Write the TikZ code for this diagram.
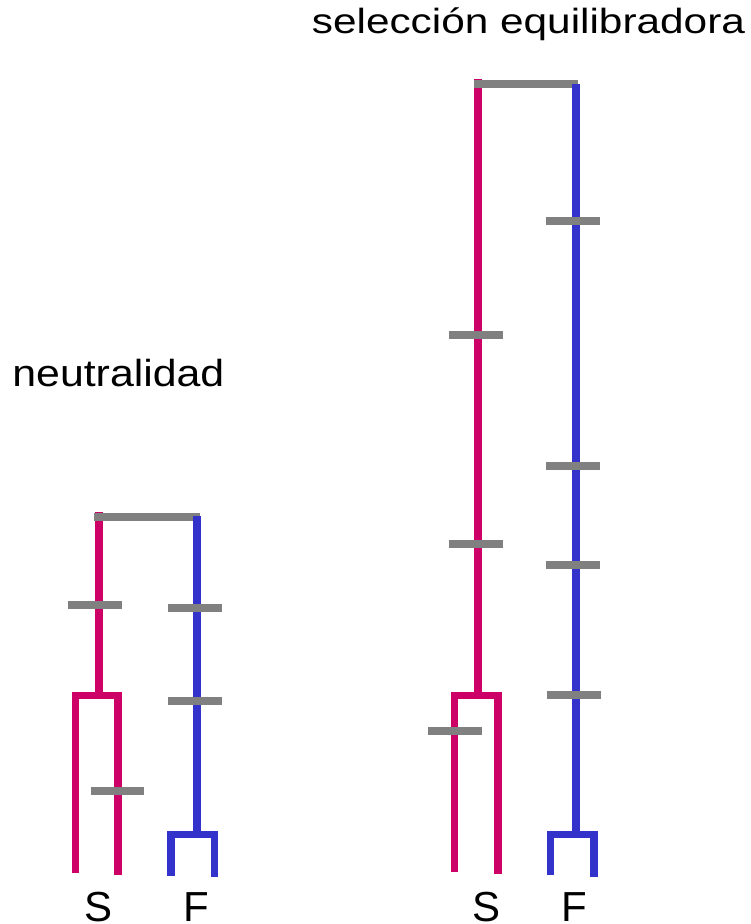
\documentclass[tikz,border=0pt]{standalone}
\usepackage{fontspec}
\setmainfont{Liberation Sans}
\usepackage{graphicx}
\definecolor{magS}{HTML}{CC0066}
\definecolor{bluF}{HTML}{3333CC}
\definecolor{greyT}{HTML}{808080}
\begin{document}
\begin{tikzpicture}[x=1pt,y=-1pt,
  sline/.style={draw=magS,line width=7.5pt},
  fline/.style={draw=bluF,line width=7.5pt},
  tick/.style={draw=greyT,line width=7.5pt},
  leaf/.style={inner sep=0pt,font=\fontsize{42}{50}\selectfont,anchor=base},
  ttl/.style={inner sep=0pt,anchor=base west}]
\useasboundingbox (0,0) rectangle (751,924);
% ---------- left tree (neutralidad)
\coordinate (LStop) at (99,512);
\coordinate (LSsplit) at (99,695.5);
\coordinate (LSa) at (75.5,873);
\coordinate (LSb) at (118,875);
\coordinate (LFtop) at (197,516);
\coordinate (LFsplit) at (197,834.5);
\coordinate (LFa) at (171,876);
\coordinate (LFb) at (214.5,877);
\path[sline] (LStop) -- (LSsplit);
\path[sline] (LSa) -- (LSa |- LSsplit) -- (LSb |- LSsplit) -- (LSb);
\path[tick] (94,517) -- (200,517);
\path[fline] (LFtop) -- (LFsplit);
\path[fline] (LFa) -- (LFa |- LFsplit) -- (LFb |- LFsplit) -- (LFb);
\path[tick] (68,605) -- (122,605);
\path[tick] (168,608) -- (222,608);
\path[tick] (168,701) -- (222,701);
\path[tick] (91,791) -- (144,791);
\node[leaf] (lS) at (98.5,921) {S};
\node[leaf] (lF) at (196,921) {F};
\node[ttl] (tN) at (12.2,386) {\fontsize{37.7}{44}\selectfont\scalebox{1.136}[1]{neutralidad}};
% ---------- right tree (seleccion equilibradora)
\coordinate (RStop) at (478,79);
\coordinate (RSsplit) at (478,695.5);
\coordinate (RSa) at (454.5,872);
\coordinate (RSb) at (498,874);
\coordinate (RFtop) at (576,84);
\coordinate (RFsplit) at (576,834.5);
\coordinate (RFa) at (550.5,875);
\coordinate (RFb) at (594,877);
\path[sline] (RStop) -- (RSsplit);
\path[sline] (RSa) -- (RSa |- RSsplit) -- (RSb |- RSsplit) -- (RSb);
\path[tick] (474,84) -- (578,84);
\path[fline] (RFtop) -- (RFsplit);
\path[fline] (RFa) -- (RFa |- RFsplit) -- (RFb |- RFsplit) -- (RFb);
\path[tick] (449,335) -- (503,335);
\path[tick] (449,544) -- (503,544);
\path[tick] (428,731) -- (482,731);
\path[tick] (546,221) -- (600,221);
\path[tick] (546,466) -- (600,466);
\path[tick] (546,565) -- (600,565);
\path[tick] (547,695) -- (601,695);
\node[leaf] (rS) at (487,921) {S};
\node[leaf] (rF) at (574,921) {F};
\node[ttl] (tS) at (311.7,33) {\fontsize{35}{42}\selectfont\scalebox{1.21}[1]{selección equilibradora}};
\end{tikzpicture}
\end{document}
